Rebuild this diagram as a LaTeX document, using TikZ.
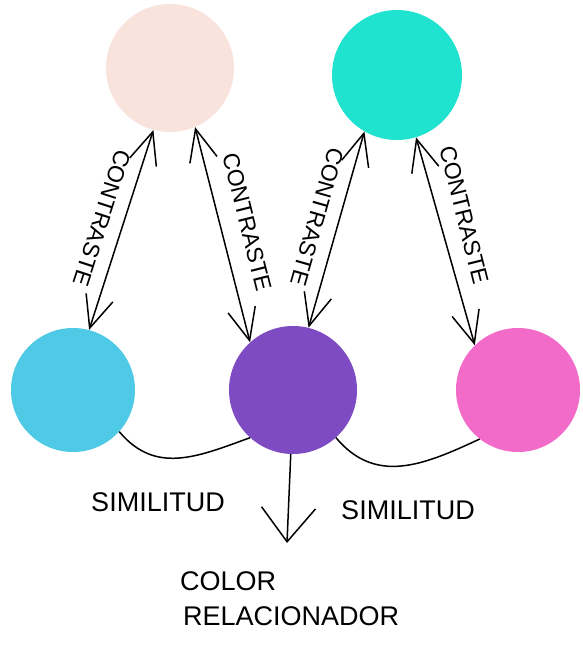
\documentclass[tikz,border=0pt]{standalone}
\usepackage{fontspec}
\setmainfont{Liberation Sans}
\usetikzlibrary{arrows.meta}
\definecolor{peach}{HTML}{F8E4DC}
\definecolor{turq}{HTML}{1FE3CF}
\definecolor{skyb}{HTML}{4EC9E6}
\definecolor{violet}{HTML}{7E4BC2}
\definecolor{magen}{HTML}{F26BC9}
\tikzset{
  dot/.style={circle,inner sep=0pt,minimum size=#1,draw=none},
  vtip/.tip={Straight Barb[length=32pt,width=28pt,line width=1.5pt]},
  link/.style={line width=1.5pt,draw=black,arrows={vtip-vtip}},
  onearrow/.style={line width=1.5pt,draw=black,arrows={-Straight Barb[length=34pt,width=54pt,line width=1.5pt]}},
  arcline/.style={line width=1.5pt,draw=black},
  lbl/.style={font=\fontsize{23}{23}\selectfont,inner sep=0pt},
  big/.style={font=\fontsize{27}{27}\selectfont,inner sep=0pt},
}
\begin{document}
\begin{tikzpicture}[x=1pt,y=-1pt]
\useasboundingbox[fill=white] (0,0) rectangle (583,645);
\node[dot=128pt,fill=peach] (pk) at (170,68) {};
\node[dot=130pt,fill=turq] (cy) at (397,75) {};
\node[dot=124pt,fill=skyb] (lb) at (73,390) {};
\node[dot=128pt,fill=violet] (pu) at (293,390) {};
\node[dot=124pt,fill=magen] (mg) at (518,390) {};
% contrast arrows
\draw[link] (pk.255) -- (lb.75);
\draw[link] (pk.293) -- (pu.132);
\draw[link] (cy.240) -- (pu.76);
\draw[link] (cy.287) -- (mg.134);
\node[lbl,rotate=-108] (c1) at (102,218) {CONTRASTE};
\node[lbl,rotate=-76] (c2) at (247,222) {CONTRASTE};
\node[lbl,rotate=-106] (c3) at (317,217) {CONTRASTE};
\node[lbl,rotate=-76] (c4) at (464,215) {CONTRASTE};
% similitud arcs
\draw[arcline] (lb.-42) to[out=-50,in=-160,looseness=1.1] (pu.-132);
\draw[arcline] (pu.-48) to[out=-50,in=-155,looseness=1.1] (mg.-128);
\node[big] (s1) at (158,502) {SIMILITUD};
\node[big] (s2) at (408,510) {SIMILITUD};
% relacionador
\coordinate (end) at (287,543);
\draw[onearrow] (pu.-92) -- (end);
\node[big,anchor=west] (col) at (180,581) {COLOR};
\node[big,anchor=west] (rel) at (183,616) {RELACIONADOR};
\end{tikzpicture}
\end{document}
